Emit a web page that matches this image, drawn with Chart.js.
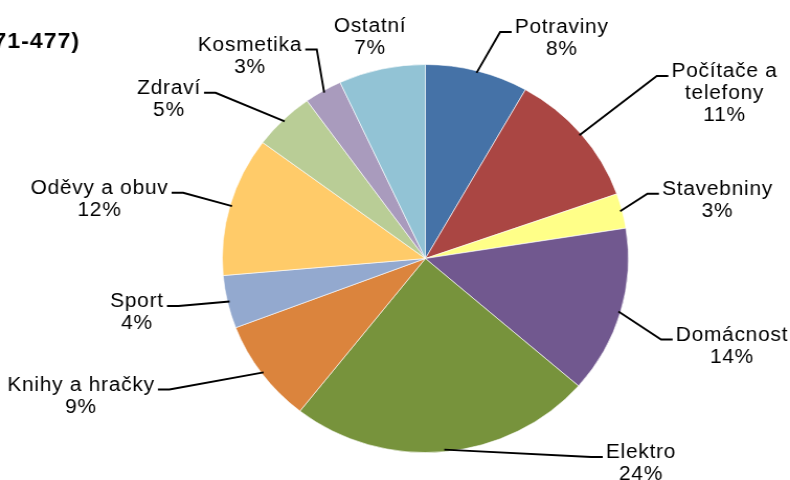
<!DOCTYPE html>
<html>
<head>
<meta charset="utf-8">
<script src="https://cdn.jsdelivr.net/npm/chart.js@4"></script>
<style>
  html, body { margin: 0; padding: 0; background: #fff; overflow: hidden; }
  #wrap { width: 755px; height: 480px; transform: scaleX(1.0464); transform-origin: 0 0; }
</style>
</head>
<body>
<div id="wrap"><canvas id="shares"></canvas></div>
<script>
// categories, clockwise from 12 o'clock
const categories = ['Potraviny', ['Počítače a', 'telefony'], 'Stavebniny', 'Domácnost', 'Elektro',
  'Knihy a hračky', 'Sport', 'Oděvy a obuv', 'Zdraví', 'Kosmetika', 'Ostatní'];
const shares = [8.2, 11.4, 2.9, 13.9, 24.2, 8.6, 4.4, 11.6, 4.9, 3.0, 6.9];
const sliceColors = ['#4572A7', '#AA4643', '#FFFF88', '#71588F', '#77933C',
  '#DB843D', '#93A9CF', '#FFCB69', '#B9CD96', '#A99BBD', '#92C3D5'];
const titleText = '71-477)';

// where Excel put each label: [centre x, first baseline]
const labelSpots = [[536.8, 33], [692.4, 77], [685.7, 194.8], [699.5, 340.5], [612.6, 458],
  [77.4, 390.5], [130.9, 307], [95.1, 193.8], [161.5, 93.8], [238.9, 50.5], [353.6, 32]];

document.addEventListener('DOMContentLoaded', function () {
  const canvas = document.getElementById('shares');
  const ctx = canvas.getContext('2d');
  const total = shares.reduce((a, b) => a + b, 0);

  const outsideLabels = {
    id: 'outsideLabels',
    afterDatasetsDraw(chart) {
      const c = chart.ctx;
      const meta = chart.getDatasetMeta(0);
      c.save();
      c.fillStyle = '#000';
      c.strokeStyle = '#000';
      c.lineWidth = 1.9;
      c.font = '20px "Liberation Sans", Arial, sans-serif';
      c.letterSpacing = '0.7px';
      c.textAlign = 'center';
      c.textBaseline = 'alphabetic';

      meta.data.forEach((arc, i) => {
        const p = arc.getProps(['x', 'y', 'startAngle', 'endAngle', 'outerRadius'], true);
        const mid = (p.startAngle + p.endAngle) / 2;
        const ex = p.x + Math.cos(mid) * (p.outerRadius - 2);
        const ey = p.y + Math.sin(mid) * (p.outerRadius - 2);

        const name = categories[i];
        const lines = (Array.isArray(name) ? name : [name]).concat(Math.round(shares[i] / total * 100) + '%');
        const [cx, by] = labelSpots[i];
        const w = Math.max(...lines.map(l => c.measureText(l).width));
        lines.forEach((l, k) => c.fillText(l, cx, by + k * 22));

        // leader only when the label sits away from its slice
        const lcy = by + 10;
        const dist = Math.hypot(cx - p.x, lcy - p.y);
        if (dist > p.outerRadius + 40) {
          const right = cx > p.x;
          const tEdge = right ? cx - w / 2 - 3 : cx + w / 2 + 3;
          const elbow = right ? tEdge - 11 : tEdge + 11;
          const ly = by - 1;
          c.beginPath();
          c.moveTo(ex, ey);
          c.lineTo(elbow, ly);
          c.lineTo(tEdge, ly);
          c.stroke();
        }
      });

      c.font = 'bold 22px "Liberation Sans", Arial, sans-serif';
      c.letterSpacing = '1px';
      c.textAlign = 'right';
      c.fillText(titleText, 76.5, 48.3);
      c.restore();
    }
  };

  new Chart(ctx, {
    type: 'pie',
    data: {
      labels: categories,
      datasets: [{
        data: shares,
        backgroundColor: sliceColors,
        borderColor: 'rgba(255,255,255,0.6)',
        borderWidth: 1
      }]
    },
    options: {
      responsive: true,
      maintainAspectRatio: false,
      devicePixelRatio: 1,
      animation: false,
      layout: { padding: { top: 64, bottom: 27, left: 212, right: 154 } },
      plugins: {
        legend: { display: false },
        tooltip: { enabled: false },
        title: { display: false }
      }
    },
    plugins: [outsideLabels]
  });
});
</script>
</body>
</html>
